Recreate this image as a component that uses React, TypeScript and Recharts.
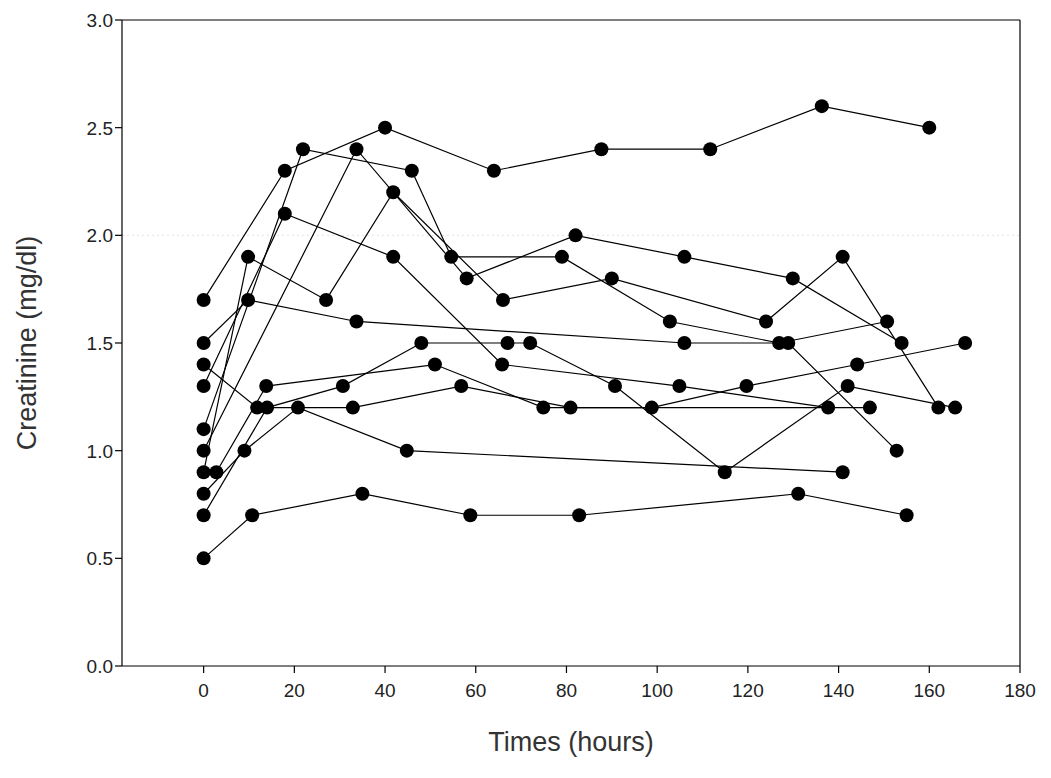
import { ScatterChart, Scatter, XAxis, YAxis, ReferenceLine } from 'recharts';

// x axis (hours) and y axis (mg/dl) ticks
const timeTicks = [0, 20, 40, 60, 80, 100, 120, 140, 160, 180];
const creatTicks = [0, 0.5, 1.0, 1.5, 2.0, 2.5, 3.0];

// one pair of arrays per patient: sampling time (h) and serum creatinine (mg/dl)
const hoursP1 = [0, 17.9, 40, 64, 87.7, 111.7, 136.3, 160];
const creatP1 = [1.7, 2.3, 2.5, 2.3, 2.4, 2.4, 2.6, 2.5];

const hoursP2 = [0, 10.7, 35, 58.8, 82.8, 131.1, 155];
const creatP2 = [0.5, 0.7, 0.8, 0.7, 0.7, 0.8, 0.7];

const hoursP3 = [0, 21.9, 45.9, 54.6, 79, 102.8, 126.9, 150.7];
const creatP3 = [1.1, 2.4, 2.3, 1.9, 1.9, 1.6, 1.5, 1.6];

const hoursP4 = [0, 33.7, 58, 82, 106, 129.9, 153.9];
const creatP4 = [1.0, 2.4, 1.8, 2.0, 1.9, 1.8, 1.5];

const hoursP5 = [0, 9, 20.8, 44.8, 140.9];
const creatP5 = [0.8, 1.0, 1.2, 1.0, 0.9];

const hoursP6 = [0, 17.9, 41.8, 65.8, 104.9, 137.7];
const creatP6 = [1.3, 2.1, 1.9, 1.4, 1.3, 1.2];

const hoursP7 = [0, 9.8, 27, 41.8, 66, 90, 124, 140.9, 162];
const creatP7 = [0.9, 1.9, 1.7, 2.2, 1.7, 1.8, 1.6, 1.9, 1.2];

const hoursP8 = [0, 9.8, 33.7, 106, 128.9, 152.8];
const creatP8 = [1.5, 1.7, 1.6, 1.5, 1.5, 1.0];

const hoursP9 = [0, 11.8, 32.9, 56.8, 80.9, 146.9];
const creatP9 = [1.4, 1.2, 1.2, 1.3, 1.2, 1.2];

const hoursP10 = [0, 14, 30.7, 48, 67, 72, 90.7, 114.9, 142, 165.7];
const creatP10 = [0.7, 1.2, 1.3, 1.5, 1.5, 1.5, 1.3, 0.9, 1.3, 1.2];

const hoursP11 = [2.8, 13.8, 51, 74.9, 98.8, 119.7, 144.1, 167.9];
const creatP11 = [0.9, 1.3, 1.4, 1.2, 1.2, 1.3, 1.4, 1.5];

const patients = [
  [hoursP1, creatP1],
  [hoursP2, creatP2],
  [hoursP3, creatP3],
  [hoursP4, creatP4],
  [hoursP5, creatP5],
  [hoursP6, creatP6],
  [hoursP7, creatP7],
  [hoursP8, creatP8],
  [hoursP9, creatP9],
  [hoursP10, creatP10],
  [hoursP11, creatP11],
].map(([hours, creat]) => hours.map((h, i) => ({ x: h, y: creat[i] })));

const font = '"Liberation Sans", Arial, sans-serif';

const Dot = (props: any) => <circle cx={props.cx} cy={props.cy} r={7} fill="#000" />;

const XTick = (props: any) => (
  <text x={props.x} y={props.y} dy={22} textAnchor="middle" fontSize={19} fill="#222" fontFamily={font}>
    {props.payload.value}
  </text>
);

const YTick = (props: any) => (
  <text x={props.x} y={props.y} dy={7} textAnchor="end" fontSize={19} fill="#222" fontFamily={font}>
    {Number(props.payload.value).toFixed(1)}
  </text>
);

const XLabel = (props: any) => {
  const vb = props.viewBox;
  return (
    <text x={vb.x + vb.width / 2} y={743} textAnchor="middle" fontSize={27} fill="#333" fontFamily={font}>
      Times (hours)
    </text>
  );
};

const YLabel = (props: any) => {
  const vb = props.viewBox;
  const cy = vb.y + vb.height / 2;
  return (
    <text
      x={19}
      y={cy}
      transform={`rotate(-90, 19, ${cy})`}
      textAnchor="middle"
      dominantBaseline="central"
      fontSize={27}
      fill="#333"
      fontFamily={font}
    >
      Creatinine (mg/dl)
    </text>
  );
};

export default function App() {
  return (
    <div style={{ width: 1043, height: 770 }}>
      <ScatterChart width={1043} height={770} margin={{ top: 12, right: 31, left: 0, bottom: 52 }}>
        <XAxis
          type="number"
          dataKey="x"
          domain={[-18, 180]}
          ticks={timeTicks}
          height={60}
          tickSize={7}
          tickMargin={2}
          axisLine={{ stroke: '#000', strokeWidth: 1.2 }}
          tickLine={{ stroke: '#000', strokeWidth: 1.2 }}
          tick={<XTick />}
          label={<XLabel />}
        />
        <YAxis
          type="number"
          dataKey="y"
          domain={[0, 3]}
          ticks={creatTicks}
          width={114}
          tickSize={7}
          tickMargin={2}
          axisLine={{ stroke: '#000', strokeWidth: 1.2 }}
          tickLine={{ stroke: '#000', strokeWidth: 1.2 }}
          tick={<YTick />}
          label={<YLabel />}
        />
        <ReferenceLine y={2} stroke="#e2e2e2" strokeDasharray="2 3" />
        <ReferenceLine y={3} stroke="#000" strokeWidth={1.2} />
        <ReferenceLine x={180} stroke="#000" strokeWidth={1.2} />
        {patients.map((data, i) => (
          <Scatter
            key={i}
            data={data}
            line={{ stroke: '#000', strokeWidth: 1.2 }}
            shape={<Dot />}
            isAnimationActive={false}
          />
        ))}
      </ScatterChart>
    </div>
  );
}
